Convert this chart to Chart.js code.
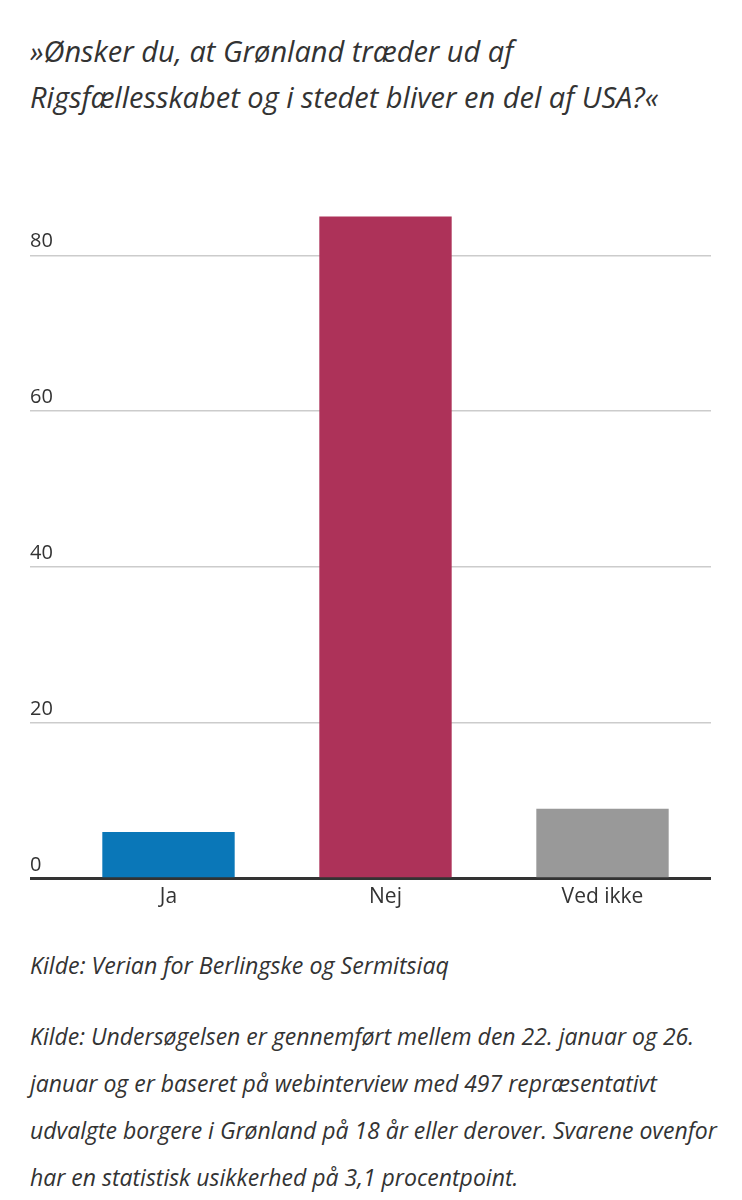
<!DOCTYPE html>
<html>
<head>
<meta charset="utf-8">
<script src="https://cdn.jsdelivr.net/npm/chart.js@4"></script>
<style>
  html, body { margin: 0; padding: 0; background: #fff; }
  body { width: 742px; height: 1200px; position: relative; overflow: hidden; font-family: "Open Sans", sans-serif; color: #333; }
  #title { position: absolute; left: 30px; top: 28px; width: 712px; white-space: nowrap; font-style: italic; font-size: 29px; line-height: 46px; color: #333; }
  #wrap { position: absolute; left: 0; top: 170px; width: 742px; height: 760px; }
  #src { position: absolute; left: 30px; top: 950px; white-space: nowrap; font-style: italic; font-size: 23.2px; line-height: 30px; color: #333; }
  #note { position: absolute; left: 30px; top: 1013px; white-space: nowrap; font-style: italic; font-size: 23px; line-height: 47px; color: #333; }
</style>
</head>
<body>
<div id="title">»Ønsker du, at Grønland træder ud af<br>Rigsfællesskabet og i stedet bliver en del af USA?«</div>
<div id="wrap"><canvas id="c"></canvas></div>
<div id="src">Kilde: Verian for Berlingske og Sermitsiaq</div>
<div id="note">Kilde: Undersøgelsen er gennemført mellem den 22. januar og 26.<br>januar og er baseret på webinterview med 497 repræsentativt<br>udvalgte borgere i Grønland på 18 år eller derover. Svarene ovenfor<br>har en statistisk usikkerhed på 3,1 procentpoint.</div>
<script>
const categories = ["Ja", "Nej", "Ved ikke"];
const values = [6, 85, 9];
const barColors = ["#0a77b8", "#ad3259", "#999999"];
const yTicks = [0, 20, 40, 60, 80];

new Chart(document.getElementById('c'), {
  type: 'bar',
  data: {
    labels: categories,
    datasets: [{
      data: values,
      backgroundColor: barColors,
      borderWidth: 0,
      categoryPercentage: 1,
      barPercentage: 0.61
    }]
  },
  options: {
    responsive: true,
    maintainAspectRatio: false,
    animation: false,
    layout: { padding: { left: 30, right: 31, top: 23, bottom: 14 } },
    plugins: { legend: { display: false }, tooltip: { enabled: false } },
    scales: {
      x: {
        grid: { display: false, drawTicks: false },
        border: { display: false },
        ticks: { color: '#333', font: { family: 'Open Sans', size: 21 }, padding: 6 }
      },
      y: {
        min: 0, max: 88,
        afterBuildTicks: (s) => { s.ticks = yTicks.map(v => ({ value: v })); },
        afterFit: (s) => { s.width = 30; },
        border: { display: false },
        grid: {
          tickLength: 30,
          color: (ctx) => ctx.tick && ctx.tick.value === 0 ? '#333333' : '#cccccc',
          lineWidth: (ctx) => ctx.tick && ctx.tick.value === 0 ? 3 : 1.5
        },
        ticks: {
          crossAlign: 'far',
          labelOffset: -14,
          padding: 0,
          color: '#333',
          font: { family: 'Open Sans', size: 20 }
        }
      }
    }
  }
});
</script>
</body>
</html>
